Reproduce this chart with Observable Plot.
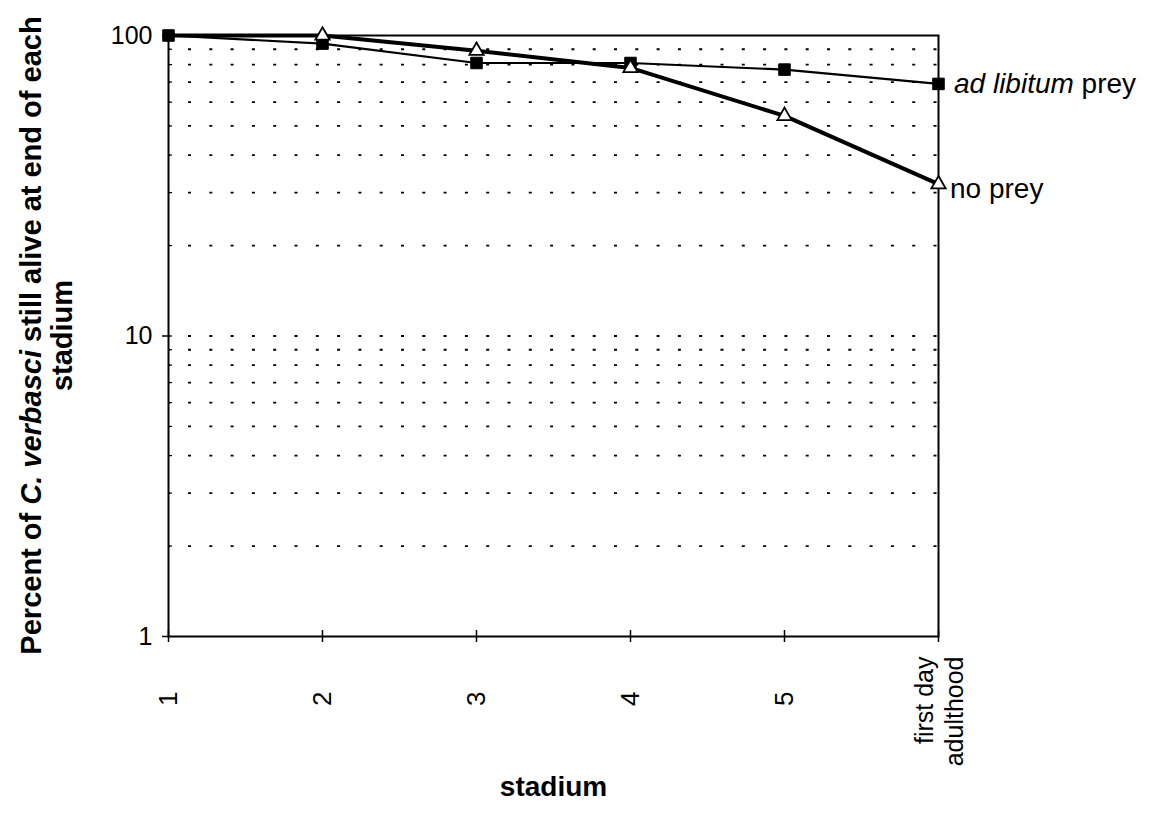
<!DOCTYPE html>
<html>
<head>
<meta charset="utf-8">
<script src="https://cdn.jsdelivr.net/npm/d3@7"></script>
<script src="https://cdn.jsdelivr.net/npm/@observablehq/plot@0.6"></script>
<style>
  html, body { margin: 0; padding: 0; background: #fff; }
  #chart svg { display: block; }
</style>
</head>
<body>
<div id="chart"></div>
<script>
const stages = ["1", "2", "3", "4", "5", "first day\nadulthood"];
const adLibitum = [100, 94, 81, 81, 77, 69];
const noPrey = [100, 100, 89, 78, 54, 32];
const yLabelValues = [1, 10, 100];
const gridValues = [2, 3, 4, 5, 6, 7, 8, 9, 10, 20, 30, 40, 50, 60, 70, 80, 90];
const seriesNames = ["ad libitum prey", "no prey"];

const adRows = stages.map((s, i) => ({stage: s, value: adLibitum[i]}));
const noRows = stages.map((s, i) => ({stage: s, value: noPrey[i]}));

const FONT = "'Liberation Sans', Arial, Helvetica, sans-serif";

const plot = Plot.plot({
  width: 1164,
  height: 825,
  marginLeft: 168,
  marginRight: 226,
  marginTop: 35,
  marginBottom: 189,
  style: {fontFamily: FONT, fontSize: "25px", color: "#000", background: "#fff"},
  x: {type: "point", domain: stages, padding: 0},
  y: {type: "log", domain: [1, 100]},
  marks: [
    Plot.ruleY(gridValues, {stroke: "#000", strokeWidth: 1.8, strokeDasharray: "3,18.3", strokeDashoffset: -20}),
    Plot.frame({stroke: "#000", strokeWidth: 2}),
    Plot.axisY(yLabelValues, {tickSize: 6, tickPadding: 10, strokeWidth: 1.5, label: null,
      tickFormat: d => String(d), fontSize: 25}),
    Plot.ruleY(gridValues, {x1: () => stages[0], x2: () => stages[0], insetRight: -4, stroke: "#000", strokeWidth: 1.2}),
    Plot.axisX({tickSize: 6, tickFormat: () => "", strokeWidth: 1.5, label: null}),
    Plot.ruleX(stages, {x: d => d, y1: () => 1, y2: () => 1, insetTop: -6, stroke: "#000", strokeWidth: 1.5}),
    Plot.text(stages.slice(0, 5), {x: d => d, y: () => 1, rotate: -90, textAnchor: "end", dy: 55, fontSize: 26, fill: "#000"}),
    Plot.text(stages.slice(5), {x: d => d, y: () => 1, rotate: -90, textAnchor: "end", dy: 20, fontSize: 25, fill: "#000", lineHeight: 1.2}),
    Plot.line(adRows, {x: "stage", y: "value", stroke: "#000", strokeWidth: 2.2}),
    Plot.line(noRows, {x: "stage", y: "value", stroke: "#000", strokeWidth: 4}),
    Plot.dot(adRows, {x: "stage", y: "value", symbol: "square", r: 6.5, fill: "#000", stroke: "#000", strokeWidth: 1}),
    Plot.dot(noRows.slice(1), {x: "stage", y: "value", symbol: "triangle", r: 5.3, fill: "#fff", stroke: "#000", strokeWidth: 1.8}),
    Plot.text(["stadium"], {frameAnchor: "bottom", dy: 159, fontSize: 28, fontWeight: "bold", fill: "#000"})
  ]
});

document.getElementById("chart").appendChild(plot);

const svg = d3.select(plot);
const xs = plot.scale("x");
const ys = plot.scale("y");
const lastX = xs.apply(stages[stages.length - 1]);

// Series labels at right end
const adLabel = svg.append("text")
  .attr("x", lastX + 16)
  .attr("y", ys.apply(adLibitum[adLibitum.length - 1]))
  .attr("dy", "0.35em")
  .attr("text-anchor", "start")
  .attr("font-family", FONT)
  .attr("font-size", 28)
  .attr("fill", "#000");
adLabel.append("tspan").attr("font-style", "italic").text("ad libitum");
adLabel.append("tspan").text("\u00a0prey");

svg.append("text")
  .attr("x", lastX + 12)
  .attr("y", ys.apply(noPrey[noPrey.length - 1]) + 4)
  .attr("dy", "0.35em")
  .attr("text-anchor", "start")
  .attr("font-family", FONT)
  .attr("font-size", 28)
  .attr("fill", "#000")
  .text(seriesNames[1]);

// Y axis title (two lines, rotated)
const yMid = (ys.apply(1) + ys.apply(100)) / 2;
const t1 = svg.append("text")
  .attr("transform", `translate(31,${yMid}) rotate(-90)`)
  .attr("text-anchor", "middle")
  .attr("dy", "0.35em")
  .attr("font-family", FONT)
  .attr("font-size", 29)
  .attr("font-weight", "bold")
  .attr("fill", "#000");
t1.append("tspan").text("Percent of ");
t1.append("tspan").attr("font-style", "italic").text("C. verbasci");
t1.append("tspan").text(" still alive at end of each");

svg.append("text")
  .attr("transform", `translate(62,${yMid}) rotate(-90)`)
  .attr("text-anchor", "middle")
  .attr("dy", "0.35em")
  .attr("font-family", FONT)
  .attr("font-size", 29)
  .attr("font-weight", "bold")
  .attr("fill", "#000")
  .text("stadium");
</script>
</body>
</html>
